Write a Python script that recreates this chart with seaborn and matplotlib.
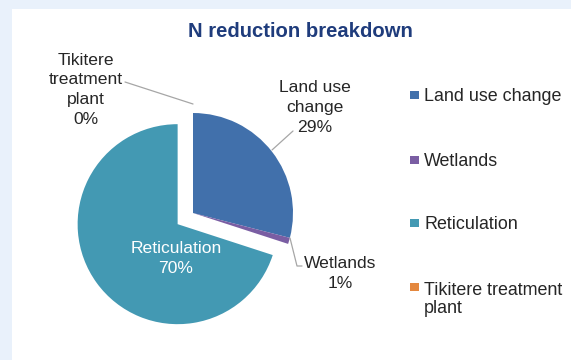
import matplotlib
matplotlib.use("Agg")
import matplotlib.pyplot as plt
from matplotlib.patches import Rectangle
import seaborn as sns

# Share of N reduction by measure (percent)
categories = ["Land use change", "Wetlands", "Reticulation", "Tikitere treatment plant"]
shares = [29, 1, 70, 0]
slice_labels = ["Land use\nchange", "Wetlands", "Reticulation", "Tikitere\ntreatment\nplant"]
legend_labels = ["Land use change", "Wetlands", "Reticulation", "Tikitere treatment\nplant"]
title = "N reduction breakdown"

sns.set_theme(style="white")
plt.rcParams["font.family"] = ["Liberation Sans", "DejaVu Sans"]

palette = sns.color_palette(["#4170ab", "#7a5ea3", "#4399b3", "#e4883f"])

W, H = 571, 360
fig = plt.figure(figsize=(W / 100, H / 100), dpi=100, facecolor="#e9f1fb")
ax = fig.add_axes([0, 0, 1, 1])


def py(y):
    """Convert a top-down pixel row into the y-up axis coordinate."""
    return H - y


# white chart panel
ax.add_patch(Rectangle((11.5, 0), W - 11.5, H - 9, facecolor="white",
                       edgecolor="none", zorder=0))

# pie: Reticulation pulled out from the rest (offset in axis units)
explode = [19 if c == "Reticulation" else 0 for c in categories]
wedges, _ = ax.pie(shares, colors=palette, startangle=90, counterclock=False,
                   explode=explode, radius=100, center=(193, py(213)),
                   frame=True, wedgeprops=dict(linewidth=0))
ax.set_xlim(0, W)
ax.set_ylim(0, H)
ax.set_aspect("auto")
ax.set_axis_off()

txt = "#262626"
fs = 12.6
lead = dict(color="#a6a6a6", lw=0.9, zorder=3)

# data labels: (x, last-line baseline y) in pixels
label_pos = {
    "Land use change": (315, 132, txt),
    "Wetlands": (340, 288, txt),
    "Reticulation": (176, 273, "white"),
    "Tikitere treatment plant": (86, 124, txt),
}
for cat, lab, val in zip(categories, slice_labels, shares):
    x, yb, col = label_pos[cat]
    ax.text(x, py(yb), f"{lab}\n{val}%", ha="center", va="baseline",
            multialignment="center", fontsize=fs, color=col,
            linespacing=1.4, zorder=4)

# leader lines
ax.plot([125, 193], [py(82), py(104)], **lead)
ax.plot([293, 272], [py(131), py(150)], **lead)
ax.plot([290, 297, 302], [py(238), py(266), py(266)], **lead)

# title
ax.text(300, py(37), title, ha="center", va="baseline", fontsize=14.6,
        fontweight="bold", color="#1f3c7c", zorder=4)

# legend: (row centre of first line, baseline of last line)
rows = [(95, 101), (160, 166), (223, 229), (287, 313)]
for lab, col, (ry, yb) in zip(legend_labels, palette, rows):
    ax.add_patch(Rectangle((410, py(ry) - 4), 8.5, 8.5, facecolor=col,
                           edgecolor="none", zorder=4))
    ax.text(424, py(yb), lab, ha="left", va="baseline", fontsize=12.9,
            color=txt, linespacing=1.1, zorder=4)

fig.savefig("out.png", dpi=100, facecolor=fig.get_facecolor())
